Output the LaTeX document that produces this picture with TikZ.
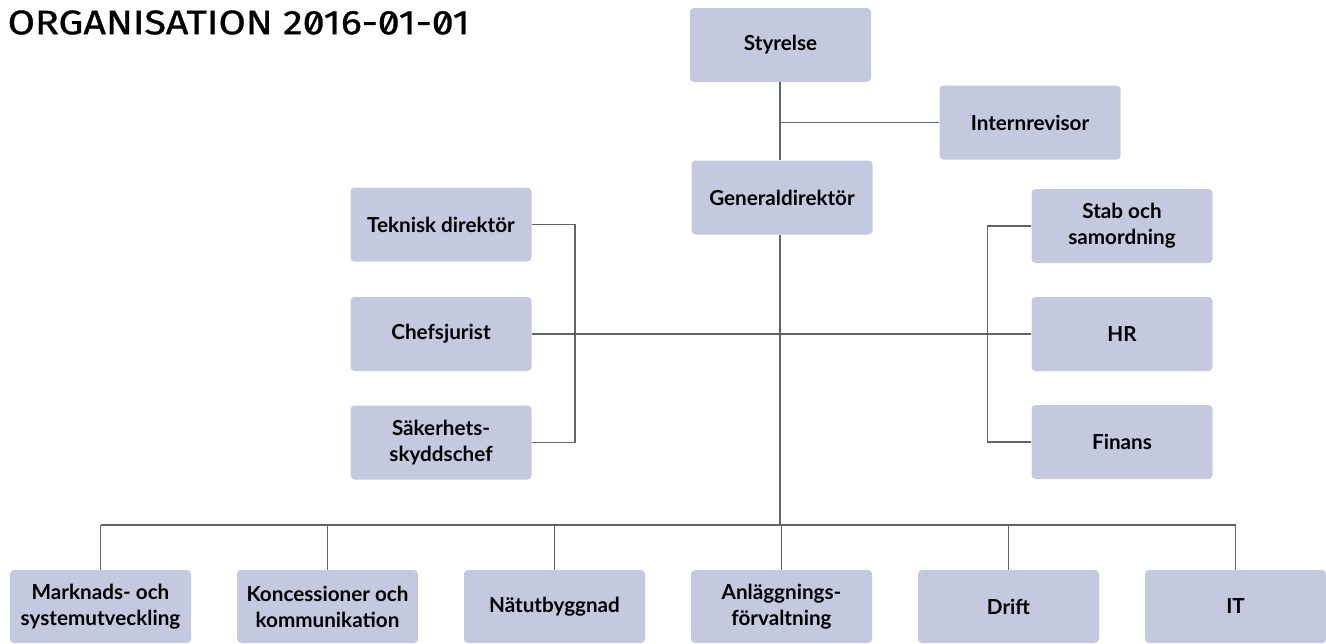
\documentclass[tikz,border=0pt]{standalone}
\usepackage{fontspec}
\setmainfont{Lato}
\newfontfamily\titlefont{Fira Sans}[RawFeature=+zero, FakeBold=1, FakeStretch=1.16]
\definecolor{boxfill}{HTML}{C5C9E0}
\definecolor{linegray}{HTML}{5F656B}
\tikzset{
  orgbox/.style={fill=boxfill, rounded corners=3pt, minimum width=135.75pt,
    minimum height=55.5pt, align=center, font=\bfseries\fontsize{15.5}{19.5}\selectfont, inner sep=2pt},
  orgline/.style={draw=linegray, line width=1.1pt}
}
\begin{document}
\begin{tikzpicture}[x=0.75pt, y=-0.75pt]
    \useasboundingbox (0,0) rectangle (1326,643);
    \node[anchor=west, font=\titlefont\fontsize{25.5}{28}\selectfont] (title) at (3,22.5) {ORGANISATION 2016-01-01};

    % --- top ---
    \node[orgbox] (sty) at (780.5,45) {Styrelse};
    \node[orgbox] (int) at (1030,122.5) {Internrevisor};
    \node[orgbox] (gd) at (782,197.5) {Generaldirektör};

    % --- left staff ---
    \node[orgbox] (tek) at (441,224.5) {Teknisk direktör};
    \node[orgbox] (chef) at (441,334) {Chefsjurist};
    \node[orgbox] (sak) at (441,442.5) {Säkerhets-\\skyddschef};

    % --- right staff ---
    \node[orgbox] (stab) at (1122,226) {Stab och\\samordning};
    \node[orgbox] (hr) at (1122,334) {HR};
    \node[orgbox] (fin) at (1122,442) {Finans};

    % --- departments ---
    \node[orgbox, minimum height=54.75pt] (mark) at (100.5,606.5) {Marknads- och\\systemutveckling};
    \node[orgbox, minimum height=54.75pt] (kon) at (327.5,606.5) {Koncessioner och\\kommunikation};
    \node[orgbox, minimum height=54.75pt] (nat) at (554.5,606.5) {Nätutbyggnad};
    \node[orgbox, minimum height=54.75pt] (anl) at (781.5,606.5) {Anläggnings-\\förvaltning};
    \node[orgbox, minimum height=54.75pt] (drift) at (1008.5,606.5) {Drift};
    \node[orgbox, minimum height=54.75pt] (it) at (1235.5,606.5) {IT};

    \coordinate (bus) at (780,525);

    % --- lines ---
    \draw[orgline] (sty.south -| bus) -- (gd.north -| bus);
    \draw[orgline] (int.west) -- (int.west -| bus);
    \draw[orgline] (gd.south -| bus) -- (bus);
    \draw[orgline] (tek.east) -- ++(43,0) |- (sak.east);
    \draw[orgline] (stab.west) -- ++(-44,0) |- (fin.west);
    \draw[orgline] (chef.east) -- (hr.west);
    \draw[orgline] (bus -| mark.north) -- (bus -| it.north);
    \foreach \d in {mark,kon,nat,anl,drift,it}
        \draw[orgline] (bus -| \d.north) -- (\d.north);
\end{tikzpicture}
\end{document}
